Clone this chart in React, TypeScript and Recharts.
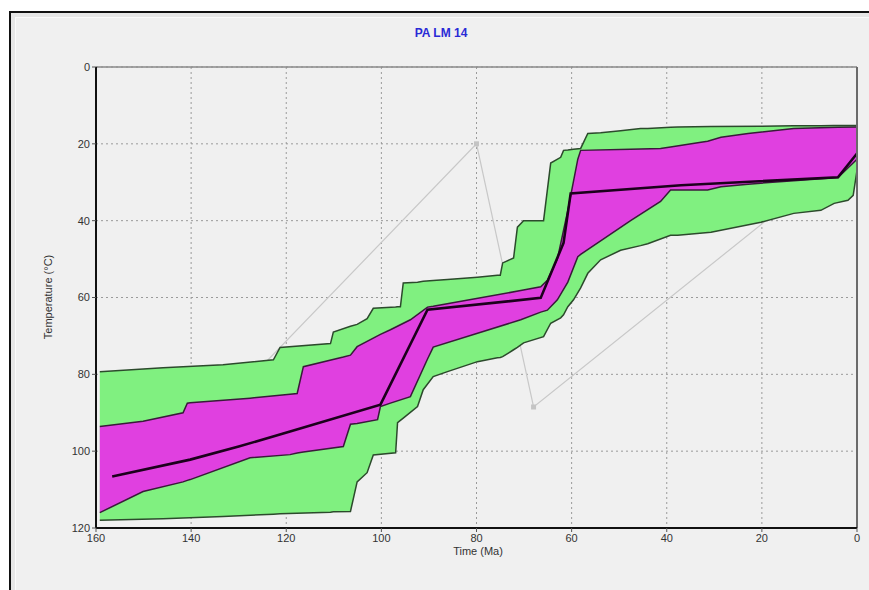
import React from 'react';
import { ComposedChart, Area, Line, Scatter, XAxis, YAxis, CartesianGrid, ReferenceLine } from 'recharts';

// Tick labels
const xTicks = [0, 20, 40, 60, 80, 100, 120, 140, 160];
const yTicks = [0, 20, 40, 60, 80, 100, 120];

// Green envelope (acceptable fits): time (Ma), upper edge (°C), lower edge (°C)
const greenTime = [159.2, 145.9, 133.3, 122.7, 121.3, 110.7, 110.1, 106.5, 105.1, 103, 101.7, 97, 96.6, 96, 95.4, 92.4, 91.2, 89.1, 86.1, 79.8, 75.6, 75, 74.5, 72.2, 71.4, 70.1, 65.9, 64.4, 62.3, 61.7, 60.8, 59.6, 58.1, 56.6, 53.9, 49.7, 45.5, 44, 39.2, 37.7, 30.7, 20.2, 13.3, 7.6, 4.8, 1.9, 0.8, 0];
const greenTop = [79.3, 78.3, 77.5, 76.2, 73, 72, 69, 67.5, 67, 65.5, 62.8, 62.5, 62.4, 62.4, 56.2, 56, 55.8, 55.6, 55.3, 54.7, 54.2, 54.2, 51, 49.7, 41.7, 40, 40, 25, 23.5, 21.7, 21.6, 21.4, 21.2, 17.3, 17.1, 16.6, 16, 16, 15.7, 15.6, 15.5, 15.4, 15.3, 15.3, 15.2, 15.2, 15.2, 15.2];
const greenBottom = [118, 117.6, 117, 116.4, 116.3, 115.9, 115.8, 115.7, 108, 105.6, 101, 100.4, 92.6, 92, 91.4, 88.4, 84, 80.6, 79.3, 76.7, 75.7, 75.6, 75.4, 73.6, 73, 71.8, 70.2, 66.7, 65.3, 64.5, 62.4, 60.6, 57.5, 53.7, 50.2, 47.7, 46.5, 46, 43.8, 43.8, 43, 40.4, 38.1, 37.3, 35.5, 34.7, 33.4, 26.9];

// Magenta envelope (good fits)
const magentaTime = [159.2, 150.1, 141.7, 140.8, 140.2, 127.6, 119.2, 117.7, 116.4, 108, 106.5, 105.1, 100.8, 100.2, 98.1, 93.9, 90.3, 89.1, 70.7, 66.5, 65.1, 63, 60.8, 58.7, 58.1, 47.6, 41.3, 39.2, 32.8, 31.4, 28.6, 22.9, 13.3, 4, 0];
const magentaTop = [93.6, 92.2, 90, 87.5, 87.4, 86.2, 85.2, 85, 78, 75.5, 75, 72.8, 70, 69.6, 68.4, 65.8, 62.5, 62.3, 58.2, 57.2, 55.5, 50, 37.3, 24, 21.7, 21.4, 21.2, 20.8, 19.6, 19.3, 18.3, 17.3, 16, 15.7, 15.6];
const magentaBottom = [116, 110.5, 108, 107.6, 107.4, 101.7, 100.9, 100.5, 100.2, 98.8, 93, 92.8, 91.8, 88.4, 87.5, 85.8, 76, 72.9, 65.8, 63.8, 63.3, 60.6, 56, 49.4, 48.8, 40, 35, 32, 32, 32, 31.2, 30.5, 29.6, 28.8, 24];

// Best-fit path
const bestTime = [156.6, 140.2, 130, 119.2, 100.2, 90.3, 66.5, 61.7, 60.2, 37, 4, 0];
const bestTemp = [106.6, 102.2, 98.8, 94.9, 87.9, 63.2, 60.1, 45.8, 32.9, 30.8, 28.7, 22.5];

// Constraint path and markers
const constraintTime = [140, 80, 68, 0];
const constraintTemp = [97, 20, 88.5, 21];
const markerTime = [80, 68];
const markerTemp = [20, 88.5];

const greenData = greenTime.map((t, i) => ({ t, range: [greenTop[i], greenBottom[i]] }));
const magentaData = magentaTime.map((t, i) => ({ t, range: [magentaTop[i], magentaBottom[i]] }));
const bestData = bestTime.map((t, i) => ({ t, temp: bestTemp[i] }));
const constraintData = constraintTime.map((t, i) => ({ t, temp: constraintTemp[i] }));
const markerData = markerTime.map((t, i) => ({ t, temp: markerTemp[i] }));

const font = 'Liberation Sans, Arial, sans-serif';

const Marker = (props: any) => {
  const { cx, cy } = props;
  if (cx == null || cy == null) return null;
  return <rect x={cx - 2.5} y={cy - 2.5} width={5} height={5} fill="#c4c4c4" />;
};

export default function App() {
  return (
    <div style={{ position: 'absolute', left: 0, top: 0, width: 869, height: 590, background: '#ffffff', overflow: 'hidden', fontFamily: font }}>
      <div style={{ position: 'absolute', left: 9, top: 11, width: 880, height: 600, borderLeft: '2px solid #111', borderTop: '2px solid #111', background: '#e6e6e6' }} />
      <div style={{ position: 'absolute', left: 15, top: 17, width: 880, height: 600, background: '#f0f0f0', borderLeft: '1px solid #fafafa', borderTop: '1px solid #fafafa' }} />
      <div style={{ position: 'absolute', left: 441, top: 33, transform: 'translate(-50%, -50%)', color: '#2a2ad6', fontWeight: 'bold', fontSize: 12, whiteSpace: 'nowrap' }}>PA LM 14</div>
      <div style={{ position: 'absolute', left: 48, top: 297, transform: 'translate(-50%, -50%) rotate(-90deg)', color: '#333', fontSize: 11, whiteSpace: 'nowrap' }}>Temperature (°C)</div>
      <div style={{ position: 'absolute', left: 478, top: 551, transform: 'translate(-50%, -50%)', color: '#333', fontSize: 11, whiteSpace: 'nowrap' }}>Time (Ma)</div>
      <div style={{ position: 'absolute', left: 0, top: 0 }}>
        <ComposedChart width={869} height={590} margin={{ top: 67, right: 12, bottom: 32, left: 56 }}>
          <CartesianGrid stroke="#9a9a9a" strokeDasharray="2 3" strokeWidth={1} />
          <XAxis
            type="number"
            dataKey="t"
            domain={[0, 160]}
            reversed
            ticks={xTicks}
            allowDataOverflow
            height={30}
            axisLine={{ stroke: '#111', strokeWidth: 2 }}
            tickLine={{ stroke: '#555' }}
            tickSize={4}
            tick={{ fill: '#333', fontSize: 11, fontFamily: font }}
          />
          <YAxis
            type="number"
            domain={[0, 120]}
            reversed
            ticks={yTicks}
            allowDataOverflow
            width={40}
            axisLine={{ stroke: '#111', strokeWidth: 2 }}
            tickLine={{ stroke: '#555' }}
            tickSize={4}
            tick={{ fill: '#333', fontSize: 11, fontFamily: font }}
          />
          <Area data={constraintData} dataKey="temp" type="linear" stroke="#c8c8c8" strokeWidth={1.2} fill="none" fillOpacity={0} dot={false} activeDot={false} isAnimationActive={false} />
          <Area data={greenData} dataKey="range" type="linear" fill="#80f080" fillOpacity={1} stroke="#2c4a2c" strokeWidth={1.5} isAnimationActive={false} />
          <Area data={magentaData} dataKey="range" type="linear" fill="#e040e0" fillOpacity={1} stroke="#3a1a3a" strokeWidth={1.5} isAnimationActive={false} />
          <Line data={bestData} dataKey="temp" type="linear" stroke="#1c001c" strokeWidth={2.6} dot={false} isAnimationActive={false} />
          <Scatter data={markerData} dataKey="temp" shape={<Marker />} isAnimationActive={false} />
          <ReferenceLine y={0} stroke="#8a8a8a" strokeWidth={1.5} />
          <ReferenceLine x={0} stroke="#6a6a6a" strokeWidth={2} />
        </ComposedChart>
      </div>
    </div>
  );
}
